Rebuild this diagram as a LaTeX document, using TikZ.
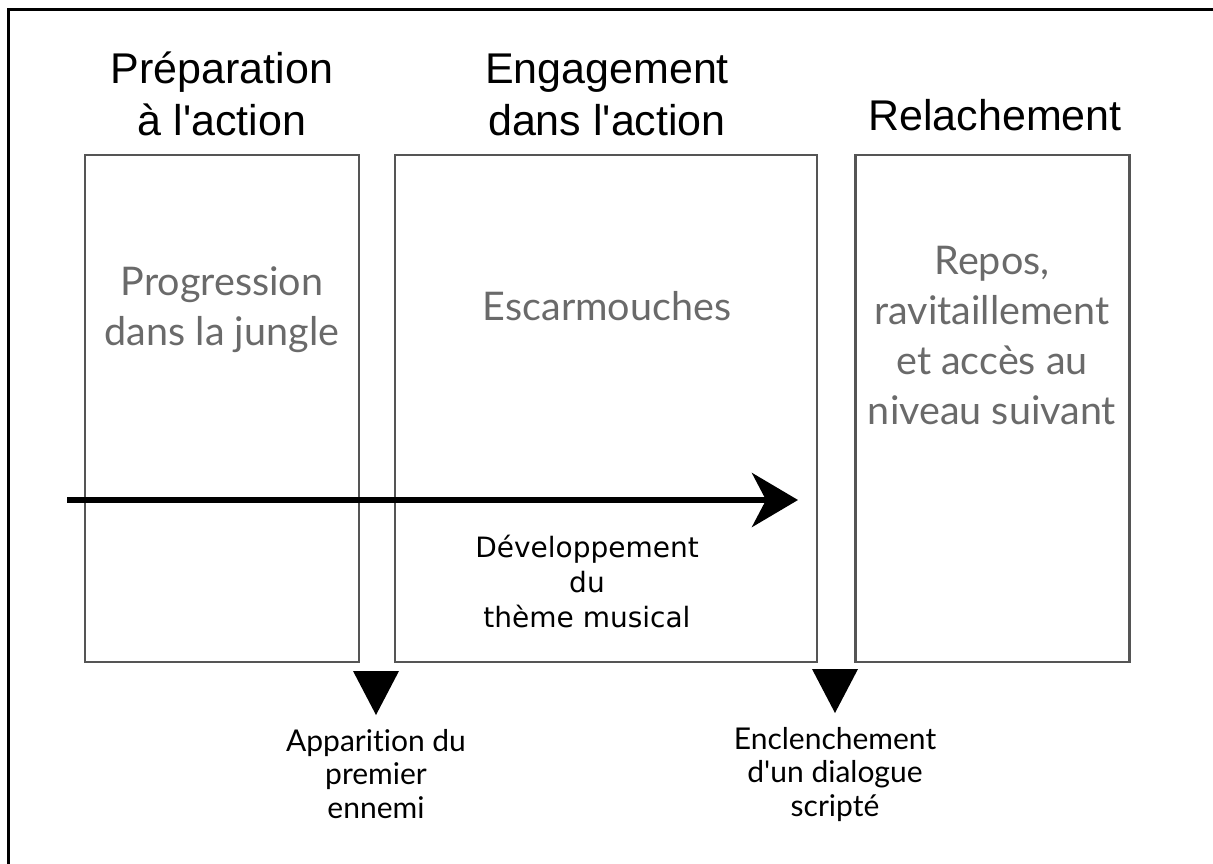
\documentclass[tikz,border=0pt]{standalone}
\usepackage{fontspec}
\setmainfont{Liberation Sans}
\newfontfamily\gillfont[Ligatures=NoCommon]{Lato}
\newfontfamily\lucfont{DejaVu Sans}
\usetikzlibrary{arrows.meta}
\definecolor{boxline}{HTML}{555555}
\definecolor{boxtext}{HTML}{6A6A6A}
\newcommand{\apos}{\textquotesingle}
\begin{document}
\begin{tikzpicture}[x=1pt,y=-1pt,
  phasebox/.style={draw=boxline, line width=2.4pt, minimum width=274pt, minimum height=507pt, inner sep=0pt},
  title/.style={font=\fontsize{43}{52}\selectfont, align=center, text=black, anchor=base},
  inner/.style={font=\gillfont\fontsize{39.5}{50}\selectfont, align=center, text=boxtext, anchor=base},
  music/.style={font=\lucfont\fontsize{28}{35}\selectfont, align=center, text=black, anchor=base},
  event/.style={font=\gillfont\fontsize{30}{33.5}\selectfont, align=center, text=black, anchor=base},
  marker/.style={fill=black}
]
\useasboundingbox (0,0) rectangle (1213,863);
% outer frame
\draw[line width=3pt] (8,870) -- (8,9) -- (1220,9);

% boxes
\node[phasebox] (b1) at (222,408.5) {};
\node[phasebox, minimum width=422pt] (b2) at (606,408.5) {};
\node[phasebox] (b3) at (992.5,408.5) {};

% titles (anchor = baseline of last line)
\node[title] (t1) at (222,135) {Préparation\\à l\apos action};
\node[title] (t2) at (607,135) {Engagement\\dans l\apos action};
\node[title] (t3) at (995,130) {Relachement};

% inner texts
\node[inner] (i1) at (222,345) {Progression\\dans la jungle};
\node[inner] (i2) at (607,320) {Escarmouches};
\node[inner] (i3) at (992,424) {Repos,\\ravitaillement\\et accès au\\niveau suivant};

% main arrow
\coordinate (as) at (67,500);
\coordinate (ae) at (798,500);
\draw[line width=6pt, -{Stealth[length=46pt, width=54pt, inset=14pt]}] (as) -- (ae);

\node[music] (m) at (587,627) {Développement\\du\\thème musical};

% markers
\fill[marker] (353,671) -- (399,671) -- (376,715) -- cycle;
\fill[marker] (812,669) -- (858,669) -- (835,713) -- cycle;
\node[event] (e1) at (376,818) {Apparition du\\premier\\ennemi};
\node[event] (e2) at (835,816) {Enclenchement\\d\apos un dialogue\\scripté};
\end{tikzpicture}
\end{document}
